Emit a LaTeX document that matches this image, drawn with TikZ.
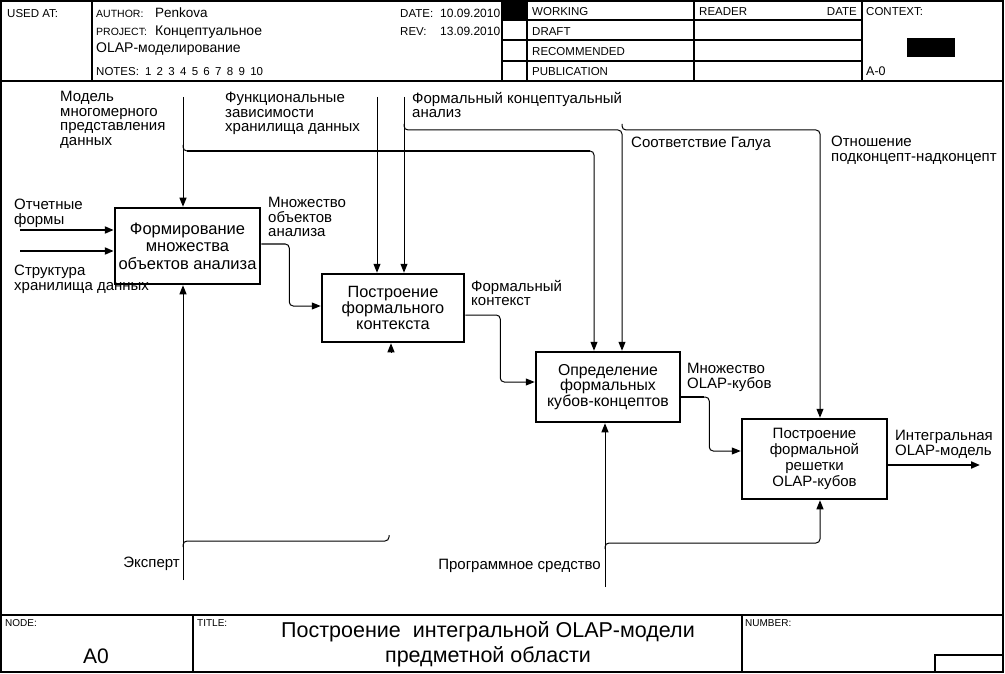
\documentclass[tikz,border=0pt]{standalone}
\usepackage{fontspec}
\setmainfont{Liberation Sans}
\usetikzlibrary{arrows.meta,calc}
\tikzset{
  fbox/.style={draw, line width=2.5pt, align=center, inner sep=0pt},
  lab/.style={font=\fontsize{15}{14.5}\selectfont, align=left, inner sep=0pt, anchor=north west},
  conn/.style={line width=1pt, rounded corners=4pt},
  tconn/.style={line width=2pt, rounded corners=4pt},
  arr/.style={-{Triangle[length=9pt,width=7pt]}},
  frameline/.style={line width=2pt},
  gridline/.style={line width=1.5pt},
  hsmall/.style={font=\fontsize{10.5}{12}\selectfont, inner sep=0pt, anchor=base west},
  hval/.style={font=\fontsize{13.5}{15}\selectfont, inner sep=0pt, anchor=base west},
  hstat/.style={font=\fontsize{11.5}{13}\selectfont, inner sep=0pt, anchor=base west},
  ftag/.style={font=\fontsize{10}{11}\selectfont, inner sep=0pt, anchor=north west},
}
\begin{document}
\begin{tikzpicture}[x=1pt,y=-1pt]
\useasboundingbox (0,0) rectangle (1005,674);
% ---------- frame ----------
\draw[frameline] (1,1) rectangle (1003,672);
\draw[frameline] (1,81) -- (1003,81);
\draw[frameline] (1,615) -- (1003,615);
% ---------- header ----------
\draw[gridline] (92,1) -- (92,81);
\draw[gridline] (502,1) -- (502,81);
\fill (502,1) rectangle (527,20);
\draw[gridline] (527,1) -- (527,81);
\draw[gridline] (694,1) -- (694,81);
\draw[gridline] (862,1) -- (862,81);
\draw[gridline] (502,20) -- (862,20) (502,40) -- (862,40) (502,61) -- (862,61);
\fill (907,38) rectangle (955,57);
\node[hsmall, font=\fontsize{11.5}{12}\selectfont] (usedat) at (7,18) {USED AT:};
\node[hsmall] (author) at (96,18) {AUTHOR:};
\node[hval] (authorv) at (155,18) {Penkova};
\node[hsmall] (project) at (96,36) {PROJECT:};
\node[hval, font=\fontsize{14}{15}\selectfont] (projectv) at (155,36) {Концептуальное};
\node[hval, font=\fontsize{14}{15}\selectfont] (projectv2) at (96,53) {OLAP-моделирование};
\node[hsmall, font=\fontsize{11.5}{12}\selectfont] (notes) at (96,76) {NOTES:\hspace{6pt}1\hspace{5.3pt}2\hspace{5.3pt}3\hspace{5.3pt}4\hspace{5.3pt}5\hspace{5.3pt}6\hspace{5.3pt}7\hspace{5.3pt}8\hspace{5.3pt}9\hspace{5.3pt}10};
\node[hsmall, font=\fontsize{11.5}{12}\selectfont] (date) at (400,18) {DATE:};
\node[hval, font=\fontsize{12}{13}\selectfont] (datev) at (440,18) {10.09.2010};
\node[hsmall, font=\fontsize{11.5}{12}\selectfont] (rev) at (400,36) {REV:};
\node[hval, font=\fontsize{12}{13}\selectfont] (revv) at (440,36) {13.09.2010};
\node[hstat] (working) at (532,16) {WORKING};
\node[hstat] (draft) at (532,36) {DRAFT};
\node[hstat] (recom) at (532,56) {RECOMMENDED};
\node[hstat] (publ) at (532,76) {PUBLICATION};
\node[hstat] (reader) at (699,16) {READER};
\node[hstat, anchor=base east] (rdate) at (857,16) {DATE};
\node[hstat] (context) at (866,16) {CONTEXT:};
\node[hstat, font=\fontsize{12.5}{13}\selectfont] (am0) at (866,76) {A-0};
% ---------- footer ----------
\draw[frameline] (193,615) -- (193,672) (742,615) -- (742,672);
\draw[frameline] (935,672) |- (1003,655);
\node[ftag] (nodel) at (5,619) {NODE:};
\node[inner sep=0pt, font=\fontsize{21}{22}\selectfont] (a0) at (96,656) {A0};
\node[ftag] (titlel) at (197,619) {TITLE:};
\node[inner sep=0pt, align=center, font=\fontsize{21.5}{25}\selectfont] (title) at (488,644) {Построение\ \ интегральной OLAP-модели\\предметной области};
\node[ftag] (numberl) at (745,619) {NUMBER:};
% ---------- boxes ----------
\node[fbox, minimum width=145pt, minimum height=76pt, font=\fontsize{16.5}{17.5}\selectfont] (b1) at (187.5,246) {Формирование\\множества\\объектов анализа};
\node[fbox, minimum width=142pt, minimum height=68pt, font=\fontsize{16.3}{16}\selectfont] (b2) at (393,308) {Построение\\формального\\контекста};
\node[fbox, minimum width=144pt, minimum height=70pt, font=\fontsize{15.8}{14.5}\selectfont] (b3) at (608,387) {Определение\\формальных\\кубов-концептов};
\node[fbox, minimum width=145pt, minimum height=80pt, font=\fontsize{15}{16}\selectfont] (b4) at (814.5,459) {Построение\\формальной\\решетки\\OLAP-кубов};
% ---------- labels ----------
\node[lab] (lmodel) at (60,91) {Модель\\многомерного\\представления\\данных};
\node[lab] (lfunc) at (225,92) {Функциональные\\зависимости\\хранилища данных};
\node[lab] (lfca) at (412,92) {Формальный концептуальный\\анализ};
\node[lab] (lgal) at (631,137) {Соответствие Галуа};
\node[lab] (lsub) at (831,136) {Отношение\\подконцепт-надконцепт};
\node[lab] (lrep) at (14,199) {Отчетные\\формы};
\node[lab] (lstr) at (14,265) {Структура\\хранилища данных};
\node[lab] (lobj) at (268,197) {Множество\\объектов\\анализа};
\node[lab] (lctx) at (471,280) {Формальный\\контекст};
\node[lab] (lcub) at (687,363) {Множество\\OLAP-кубов};
\node[lab] (lint) at (895,430) {Интегральная\\OLAP-модель};
\node[lab, anchor=east] (lexp) at (180,564) {Эксперт};
\node[lab, anchor=east] (lsw) at (601,566) {Программное средство};
% ---------- free ends ----------
\coordinate (m0) at (183,97);
\coordinate (m1) at (183,145);
\coordinate (f0) at (377,97);
\coordinate (c0) at (404,97);
\coordinate (c1) at (404,124);
\coordinate (g1) at (622,124);
\coordinate (in1) at (20,230);
\coordinate (in2) at (20,251);
\coordinate (e0) at (183,580);
\coordinate (e1) at (183,547);
\coordinate (e2) at (389,535);
\coordinate (p0) at (605,587);
\coordinate (p1) at (605,549);
\coordinate (out) at (980,465);
% ---------- controls ----------
\draw[conn, arr] (m0) -- (m0 |- b1.north);
\draw[conn, arr] (m1) -- ++(0,6) -| ($(b3.north)+(-14,0)$);
\draw[line width=2pt] (187,151) -- (590,151);
\draw[conn, arr] (f0) -- (f0 |- b2.north);
\draw[conn, arr] (c0) -- (c0 |- b2.north);
\draw[conn, arr] (c1) -- ++(0,6) -| ($(b3.north)+(14,0)$);
\draw[conn, arr] (g1) -- ++(0,6) -| ($(b4.north)+(5.5,0)$);
% ---------- inputs ----------
\draw[tconn, arr] (in1) -- (in1 -| b1.west);
\draw[tconn, arr] (in2) -- (in2 -| b1.west);
% ---------- outputs ----------
\draw[conn, arr] ($(b1.east)+(0,-2)$) -- ++(28,0) |- ($(b2.west)+(0,-2)$);
\draw[conn, arr] ($(b2.east)+(0,7)$) -- ++(35,0) |- ($(b3.west)+(0,-5)$);
\draw[conn, arr] ($(b3.east)+(0,10)$) -- ++(28,0) |- ($(b4.west)+(0,-8)$);
\draw[line width=2pt] ($(b3.east)+(0,10)$) -- ++(23,0);
\draw[tconn, arr] ($(b4.east)+(0,6)$) -- (out);
% ---------- mechanisms ----------
\draw[conn, arr] (e0) -- (e0 |- b1.south);
\draw[conn] (e1) -- ++(0,-6) -| (e2);
\draw[conn, arr] ($(b2.south)+(-2,9)$) -- ($(b2.south)+(-2,0)$);
\draw[conn, arr] (p0) -- (p0 |- b3.south);
\draw[conn, arr] (p1) -- ++(0,-6) -| ($(b4.south)+(5.5,0)$);
\end{tikzpicture}
\end{document}
